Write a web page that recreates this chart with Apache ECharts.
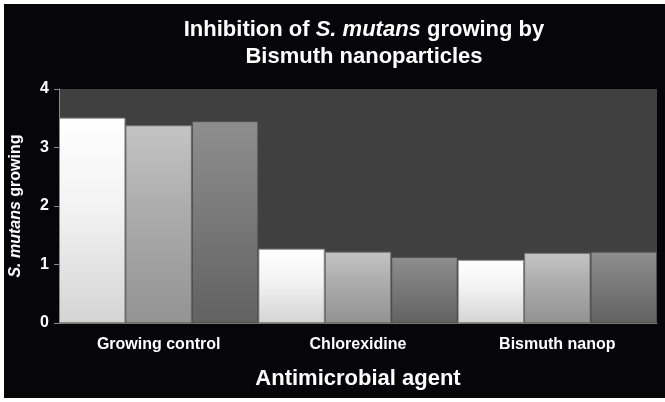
<!DOCTYPE html>
<html><head><meta charset="utf-8">
<script src="https://cdn.jsdelivr.net/npm/echarts@6/dist/echarts.min.js"></script>
<style>
html,body{margin:0;padding:0;background:#fff;}
#bg{position:absolute;left:4px;top:4px;width:661px;height:394px;background:#060608;}
#c{position:absolute;left:0;top:0;width:665px;height:402px;}
</style></head>
<body><div id="bg"></div><div id="c"></div>
<script>
const categories = ['Growing control', 'Chlorexidine', 'Bismuth nanop'];
const series1 = [3.51, 1.27, 1.08];
const series2 = [3.38, 1.22, 1.20];
const series3 = [3.45, 1.13, 1.22];
const yTicks = [0, 1, 2, 3, 4];

const FONT = '"Liberation Sans", Arial, sans-serif';
function grad(top, mid, bot) {
  return new echarts.graphic.LinearGradient(0, 0, 0, 1, [
    {offset: 0, color: top}, {offset: 0.45, color: mid}, {offset: 1, color: bot}
  ]);
}
const chart = echarts.init(document.getElementById('c'), null, {renderer: 'canvas'});
chart.setOption({
  backgroundColor: 'transparent',
  animation: false,
  title: {
    text: '{b|Inhibition of }{i|S. mutans}{b| growing by}\n{b|Bismuth nanoparticles}',
    left: 359, top: 11, textAlign: 'center',
    textStyle: {
      color: '#fff', fontFamily: FONT, lineHeight: 27,
      rich: {
        b: {fontSize: 22, fontWeight: 'bold', color: '#fff', fontFamily: FONT, lineHeight: 27},
        i: {fontSize: 22, fontWeight: 'bold', fontStyle: 'italic', color: '#fff', fontFamily: FONT, lineHeight: 27}
      }
    }
  },
  grid: {left: 58, right: 8, top: 89, bottom: 79, show: true, backgroundColor: '#404040', borderWidth: 0},
  xAxis: {
    type: 'category', data: categories,
    name: 'Antimicrobial agent', nameLocation: 'middle', nameGap: 45,
    nameTextStyle: {color: '#fff', fontSize: 22, fontWeight: 'bold', fontFamily: FONT},
    axisLine: {lineStyle: {color: '#777', width: 1}},
    axisTick: {show: false},
    axisLabel: {color: '#fff', fontSize: 16, fontWeight: 'bold', fontFamily: FONT, margin: 14}
  },
  yAxis: {
    type: 'value', min: yTicks[0], max: yTicks[yTicks.length - 1], interval: 1,
    name: '{i|S. mutans}{b| growing}', nameLocation: 'middle', nameGap: 35,
    nameTextStyle: {
      color: '#fff',
      rich: {
        b: {fontSize: 16, fontWeight: 'bold', color: '#fff', fontFamily: FONT},
        i: {fontSize: 16, fontWeight: 'bold', fontStyle: 'italic', color: '#fff', fontFamily: FONT}
      }
    },
    axisLine: {show: true, lineStyle: {color: '#888', width: 1}},
    axisTick: {show: true, length: 5, lineStyle: {color: '#888'}},
    splitLine: {show: false},
    axisLabel: {color: '#fff', fontSize: 16, fontWeight: 'bold', fontFamily: FONT, margin: 10}
  },
  series: [
    {type: 'bar', data: series1, barGap: '0%', barCategoryGap: '0%',
     itemStyle: {color: grad('#ffffff', '#f2f2f2', '#d4d4d4'), borderColor: '#8a8a8a', borderWidth: 1}},
    {type: 'bar', data: series2,
     itemStyle: {color: grad('#c4c4c4', '#ababab', '#939393'), borderColor: '#6e6e6e', borderWidth: 1}},
    {type: 'bar', data: series3,
     itemStyle: {color: grad('#8e8e8e', '#7a7a7a', '#626262'), borderColor: '#505050', borderWidth: 1}}
  ]
});
</script></body></html>
